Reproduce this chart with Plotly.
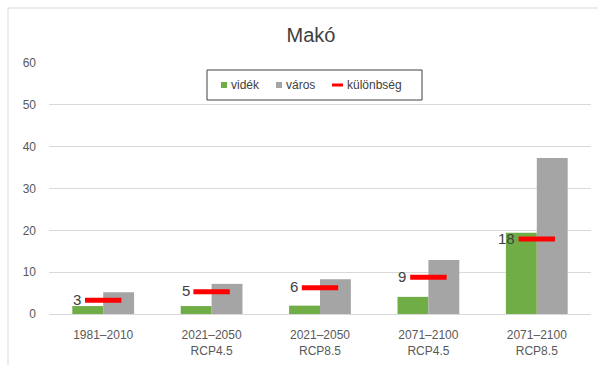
import plotly.graph_objects as go

# Time periods / scenarios
categories = ["1981–2010", "2021–2050<br>RCP4.5", "2021–2050<br>RCP8.5",
              "2071–2100<br>RCP4.5", "2071–2100<br>RCP8.5"]
videk = [1.9, 1.9, 2.0, 4.1, 19.4]
varos = [5.2, 7.2, 8.3, 12.9, 37.3]
kulonbseg = [3.3, 5.3, 6.3, 8.8, 17.9]

GREEN, GRAY, RED = "#70AD47", "#A5A5A5", "#FF0000"
FONT = "Liberation Sans"

# plot-area geometry in pixels (used to place the hand-made legend)
W, H = 598, 365
L, R, T, B = 49, 7, 63, 51
PW, PH = W - L - R, H - T - B


def px(x):
    return (x - L) / PW


def py(y):
    return (H - B - y) / PH


fig = go.Figure()
fig.add_trace(go.Bar(x=categories, y=videk, name="vidék",
                     marker_color=GREEN, marker_line_width=0))
fig.add_trace(go.Bar(x=categories, y=varos, name="város",
                     marker_color=GRAY, marker_line_width=0))
fig.add_trace(go.Scatter(
    x=categories, y=kulonbseg, name="különbség", mode="markers",
    marker=dict(symbol="line-ew", size=26, line=dict(width=5, color=RED),
                color=RED),
))

# value labels for the difference markers
annotations = [
    dict(x=c, y=v, xref="x", yref="y", text=f"{v:.0f}", showarrow=False,
         xanchor="right", yanchor="middle", xshift=-20, yshift=1,
         font=dict(size=15, color="#404040", family=FONT))
    for c, v in zip(categories, kulonbseg)
]

# legend: boxed, centred under the title
shapes = [
    dict(type="rect", xref="paper", yref="paper",
         x0=px(207), x1=px(422), y0=py(100), y1=py(70),
         line=dict(color="#404040", width=1), fillcolor="white", layer="above"),
    dict(type="rect", xref="paper", yref="paper",
         x0=px(221), x1=px(227), y0=py(88), y1=py(82),
         line=dict(width=0), fillcolor=GREEN, layer="above"),
    dict(type="rect", xref="paper", yref="paper",
         x0=px(276), x1=px(282), y0=py(88), y1=py(82),
         line=dict(width=0), fillcolor=GRAY, layer="above"),
    dict(type="line", xref="paper", yref="paper",
         x0=px(332), x1=px(343), y0=py(85), y1=py(85),
         line=dict(color=RED, width=3), layer="above"),
    # chart-area frame
    dict(type="rect", xref="paper", yref="paper",
         x0=px(8), x1=px(605), y0=py(380), y1=py(8),
         line=dict(color="#D9D9D9", width=1), fillcolor="rgba(0,0,0,0)"),
]
for x0, label in [(229, "vidék"), (284, "város"), (345, "különbség")]:
    annotations.append(dict(x=px(x0), y=py(85), xref="paper", yref="paper",
                            text=label, showarrow=False, xanchor="left",
                            yanchor="middle",
                            font=dict(size=12, color="#404040", family=FONT)))

fig.update_layout(
    width=W, height=H,
    margin=dict(l=L, r=R, t=T, b=B),
    paper_bgcolor="white", plot_bgcolor="white",
    font=dict(family=FONT, color="#595959", size=12),
    title=dict(text="Makó", x=0.52, xanchor="center", y=0.905, yanchor="middle",
               font=dict(size=20, color="#404040")),
    barmode="group", bargap=0.43, bargroupgap=0,
    showlegend=False,
    xaxis=dict(showgrid=False, showline=True, linecolor="#D9D9D9",
               ticks="", ticklabelstandoff=10,
               tickfont=dict(size=12, color="#595959")),
    yaxis=dict(range=[0, 60], dtick=10, showgrid=True, gridcolor="#D9D9D9",
               zeroline=False, showline=False, ticks="", ticklabelstandoff=12,
               tickfont=dict(size=12, color="#595959")),
    shapes=shapes,
    annotations=annotations,
)

fig.write_html("out.html")
